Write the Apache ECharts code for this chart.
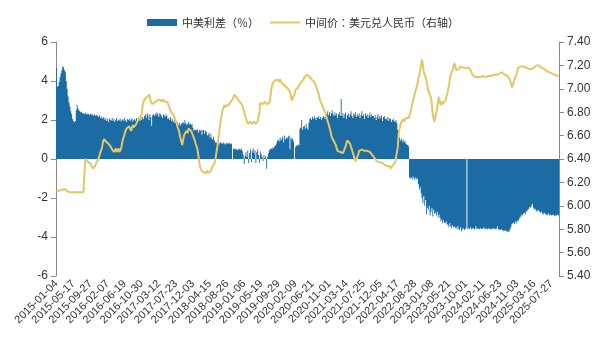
<!DOCTYPE html>
<html><head><meta charset="utf-8">
<script src="https://cdn.jsdelivr.net/npm/echarts@6/dist/echarts.min.js"></script>
<style>html,body{margin:0;padding:0;background:#fff}#c{width:606px;height:341px}</style>
</head><body><div id="c"></div>
<script>
// weekly observations starting from this Sunday
const startDate = '2015-01-04';
const spreadName = '中美利差（％）';
const rateName = '中间价：美元兑人民币（右轴）';
const leftAxisRange = [-6, 6, 2];
const rightAxisRange = [5.4, 7.4, 0.2];
const labelEvery = 19; // weeks between category labels

const spread = [
4.67,3.7,3.75,3.95,4.2,4.4,4.55,4.75,4.7,4.55,4.45,4.0,3.6,3.2,2.9,2.7,2.45,2.3,2.05,1.95,1.88,1.95,2.5,2.78,2.6,2.5,2.45,2.4,2.42,2.35,
2.35,2.3,2.38,2.32,2.28,2.35,2.3,2.25,2.32,2.28,2.3,2.22,2.3,2.25,2.2,2.28,
2.2,2.15,2.25,2.1,2.18,2.05,2.15,2.1,
2.0,2.1,1.95,2.05,1.9,2.08,2.0,1.98,2.12,1.95,2.05,1.9,2.0,2.1,1.95,2.02,1.98,2.08,1.92,2.0,2.05,1.95,2.1,1.98,1.9,2.05,2.0,2.08,1.95,2.02,2.1,1.92,2.0,2.05,1.96,2.1,2.0,
2.05,2.1,1.95,2.12,2.0,2.15,2.05,
2.2,2.3,2.1,2.35,2.25,2.0,2.3,2.15,1.7,2.25,2.3,
2.2,2.35,2.25,2.4,2.3,2.15,2.35,2.3,2.2,2.1,2.3,2.25,2.15,2.3,2.2,2.05,
2.1,2.0,2.15,1.95,2.05,1.9,2.0,1.85,1.95,1.8,1.9,1.75,1.85,1.7,1.8,
1.85,1.9,1.8,2.0,1.85,1.75,1.8,1.9,1.78,1.82,1.75,1.8,1.6,1.45,1.5,
1.5,1.48,1.52,1.35,1.5,1.45,1.5,1.25,1.48,1.5,1.3,1.45,1.4,1.2,
1.25,1.35,1.1,1.3,1.05,1.0,1.15,0.95,0.85,
0.85,0.8,0.9,0.75,0.82,0.88,0.8,0.78,0.85,0.8,0.75,0.82,0.8,0.78,0.85,0.8,0.76,0.8,
0,
0.52,0.5,0.55,0.48,0.5,0.45,0.52,0.5,0.48,0.53,0.4,
0.2,-0.25,0.15,0.35,0.1,0.45,-0.2,0.3,0.5,-0.15,0.4,0.55,0.3,0.45,-0.2,0.35,0.5,0.2,-0.2,0.4,0.25,0.1,-0.1,0.2,0.05,0.15,-0.5,0.1,0.3,
0.45,0.5,0.55,0.5,0.6,0.55,0.65,0.7,0.8,
0.95,1.0,0.9,1.1,0.95,1.05,1.15,0.85,1.2,1.0,1.1,
1.05,1.15,1.2,0.5,1.1,1.0,1.05,0.9,
0,
0.6,0.7,0.65,0.75,0.7,
1.55,1.6,2.0,1.5,1.65,1.7,1.55,1.8,1.6,1.5,1.85,
2.05,2.1,2.0,2.15,2.05,2.2,2.1,2.0,2.15,2.1,2.2,2.05,2.15,2.0,2.1,2.2,2.15,2.05,2.2,
2.3,2.45,2.25,2.4,2.2,2.35,2.5,2.3,2.2,2.4,2.25,2.35,2.1,2.3,2.4,2.2,
3.08,
2.2,2.35,2.1,2.3,2.4,2.05,2.25,2.35,2.15,2.3,2.45,2.2,2.1,2.35,2.25,2.4,2.15,2.3,2.2,2.35,2.1,2.25,2.45,2.2,2.3,2.05,2.35,2.2,2.3,2.1,2.25,2.4,2.15,2.3,2.2,
2.2,2.1,2.25,2.0,2.15,2.3,2.05,2.2,2.1,2.25,1.95,2.15,2.2,2.05,2.1,2.0,2.15,1.95,2.1,2.05,1.9,2.0,2.05,1.95,1.9,2.0,
1.85,1.5,1.2,
1.1,0.95,1.05,0.9,1.0,0.85,0.95,0.8,
0.75,0.72,0.65,-0.95,
-1.0,-0.95,-1.05,-0.9,-1.0,-1.06,-0.95,-1.05,-1.0,
-1.3,-1.57,-1.45,
-1.75,-2.0,-2.25,-1.9,
-2.4,-2.1,-2.85,-2.5,
-2.6,-2.4,-2.9,-2.7,-2.5,-2.95,-2.6,-2.8,-2.75,-2.9,-2.7,-3.0,-2.85,
-3.0,-3.2,-3.1,-3.3,-3.15,-3.25,-3.3,-3.2,
-3.35,-3.4,-3.5,-3.3,-3.45,-3.55,-3.4,-3.5,-3.45,-3.55,-3.5,-3.6,-3.45,
-3.6,-3.65,-3.5,-3.7,-3.6,-3.55,-3.65,-3.6,-3.55,
0,
-3.6,-3.55,-3.58,-3.5,-3.6,-3.57,-3.55,-3.6,-3.58,-3.45,-3.6,-3.56,-3.58,-3.6,-3.55,-3.58,-3.6,-3.57,-3.5,-3.6,-3.58,-3.56,-3.6,-3.55,-3.58,-3.6,-3.62,-3.58,-3.55,-3.6,-3.57,-3.6,-3.58,-3.45,-3.6,-3.62,-3.65,-3.6,-3.63,-3.65,-3.7,-3.68,-3.66,
-3.7,-3.72,-3.75,-3.7,-3.6,-3.5,-3.35,
-3.3,-3.25,-3.35,-3.2,-3.3,-3.15,-3.2,-3.1,-3.0,
-2.95,-2.85,-2.9,-2.8,-2.75,-2.85,-2.7,-2.65,-2.6,-2.55,
-2.45,-2.5,-2.4,-2.3,
-2.5,-2.6,-2.55,-2.65,-2.7,-2.6,-2.65,-2.7,-2.75,-2.7,
-2.8,-2.85,-2.75,-2.8,-2.85,-2.9,-2.85,-2.8,-2.9,-2.85,-2.9,-2.88,-2.85,-2.9,-2.92,-2.88,-2.9,-2.85,-2.9
];

const rate = [
6.12,6.12,6.125,6.13,6.125,6.13,6.135,6.14,6.15,6.145,6.14,6.13,6.125,6.12,6.115,6.115,6.115,6.11,6.115,6.115,6.11,6.115,6.115,6.115,6.115,6.115,6.115,6.115,6.115,6.116,6.115,6.116,
6.40,6.39,6.385,6.375,6.37,6.365,6.36,6.34,6.33,6.32,6.325,6.34,6.36,6.375,6.39,6.40,6.43,6.46,6.48,6.51,6.55,6.57,
6.56,6.55,6.545,6.54,6.53,6.52,6.51,6.50,6.48,6.47,6.46,6.47,6.49,6.46,6.47,6.49,6.46,6.47,6.49,
6.53,6.57,6.59,6.62,6.64,6.66,6.67,6.65,6.68,6.67,6.64,6.66,6.69,6.67,6.66,6.68,6.70,6.72,6.74,6.76,6.74,6.76,6.79,6.86,6.89,
6.91,6.92,6.90,6.93,6.94,6.95,6.93,6.89,6.87,6.88,6.86,6.88,6.87,6.89,6.90,6.89,6.90,6.91,6.90,6.89,6.90,6.91,6.89,6.90,6.88,6.89,6.88,
6.86,6.83,6.82,6.80,6.79,6.78,6.76,6.74,6.72,6.70,6.67,6.65,6.62,6.58,6.55,6.52,6.56,6.60,6.62,6.63,6.64,6.62,6.66,6.65,6.66,6.64,6.62,6.60,6.58,6.56,6.53,6.51,6.48,
6.43,6.37,6.33,6.31,6.30,6.29,6.30,6.29,6.28,6.29,6.30,6.28,6.29,6.29,6.30,6.32,6.34,6.35,6.36,
6.40,6.45,6.50,6.56,6.62,6.68,6.73,6.78,6.82,6.84,6.86,6.84,6.86,6.87,6.85,6.86,6.88,6.87,6.88,
6.91,6.93,6.95,6.94,6.93,6.94,6.92,6.90,6.89,6.88,6.88,6.86,6.83,6.80,6.77,6.75,6.72,6.71,6.70,6.71,6.72,6.71,6.70,6.71,6.72,6.71,6.70,6.71,6.72,6.73,
6.80,6.88,6.89,6.88,6.87,6.88,6.89,6.88,6.87,6.86,6.87,6.88,6.92,6.98,7.03,7.05,7.06,7.07,7.08,7.07,7.08,7.07,7.06,7.08,7.06,7.05,7.04,7.03,7.03,7.02,7.03,7.01,7.00,6.99,
6.97,6.94,6.90,6.89,6.90,6.95,6.99,7.00,6.99,7.01,7.03,7.04,7.05,7.04,7.06,7.08,7.10,7.09,7.11,7.12,7.12,7.11,7.10,7.11,
7.08,7.07,7.08,7.06,7.05,7.02,7.00,6.98,6.95,6.92,6.89,6.88,6.86,6.85,6.82,6.80,6.77,6.75,6.72,6.70,6.67,6.64,6.60,6.58,6.57,6.55,6.54,6.52,
6.49,6.47,6.46,6.47,6.46,6.45,6.46,6.45,6.47,6.49,6.51,6.54,6.56,6.57,6.55,6.53,6.50,6.48,6.45,6.43,6.40,6.38,6.37,6.39,
6.44,6.47,6.48,6.47,6.48,6.47,6.48,6.47,6.47,6.46,6.47,6.48,6.47,6.46,6.45,6.44,6.43,6.42,6.41,6.40,6.39,6.38,6.39,6.38,6.37,6.37,6.36,6.37,6.36,
6.35,6.36,6.35,6.34,6.35,6.33,6.34,6.32,6.31,6.33,6.35,6.36,6.37,6.37,6.38,6.50,6.62,6.66,6.70,6.72,6.73,6.74,6.72,6.73,6.75,6.76,6.74,6.75,6.77,
6.79,6.83,6.87,6.90,6.93,6.96,6.99,7.01,7.02,7.09,7.12,7.16,7.21,7.25,7.20,7.14,7.12,7.10,7.07,7.02,6.98,6.96,6.97,6.92,6.86,
6.78,6.74,6.72,6.76,6.80,6.84,6.90,6.93,6.88,6.86,6.89,6.87,6.86,6.88,6.90,6.93,6.95,6.96,7.03,7.08,7.12,7.14,7.16,7.17,7.22,7.20,
7.16,7.15,7.16,7.17,7.18,7.19,7.20,7.19,7.18,7.19,7.18,7.18,7.18,7.17,7.18,7.17,7.16,7.14,7.12,7.11,7.11,7.10,7.11,7.10,7.10,7.11,7.10,
7.10,7.10,7.10,7.11,7.10,7.10,7.10,7.10,7.10,7.11,7.11,7.11,7.11,7.11,7.12,7.12,7.12,7.12,7.12,7.12,
7.13,7.13,7.13,7.13,7.14,7.13,7.13,7.12,7.12,7.12,7.11,7.10,7.09,7.07,7.05,7.01,7.03,7.06,7.08,7.10,7.12,7.15,
7.18,7.19,7.19,7.19,7.19,7.20,7.19,7.19,7.19,7.18,7.18,7.18,7.17,7.18,7.18,7.17,7.18,7.18,7.18,7.18,
7.20,7.21,7.21,7.20,7.19,7.19,7.18,7.18,7.17,7.17,7.16,7.16,7.15,7.15,7.14,7.14,7.14,7.13,7.13,7.12,7.12,7.12,7.11,7.11,7.11,7.11
];

// weekly category labels
const dates = [];
(function(){
  const t0 = Date.parse(startDate + 'T00:00:00Z');
  const n = Math.max(spread.length, rate.length);
  for (let i = 0; i < n; i++) {
    dates.push(new Date(t0 + i * 7 * 86400000).toISOString().slice(0, 10));
  }
})();

const FONT = "'Liberation Sans', 'Noto Sans CJK SC', Arial, sans-serif";
const LEGEND_FONT = "'Noto Sans CJK TC', 'Noto Sans CJK SC', sans-serif";
const BAR_COLOR = '#1B6BA5';
const LINE_COLOR = '#E5C664';
const chart = echarts.init(document.getElementById('c'), null, {renderer: 'canvas'});
chart.setOption({
  animation: false,
  backgroundColor: '#fff',
  textStyle: {fontFamily: FONT},
  legend: {
    top: 12, left: 'center',
    itemWidth: 30, itemHeight: 7, itemGap: 10,
    textStyle: {fontSize: 11, color: '#333', fontFamily: LEGEND_FONT},
    data: [
      {name: spreadName, icon: 'rect'},
      {name: rateName, itemStyle: {opacity: 0}}
    ]
  },
  grid: {left: 56, right: 47, top: 42, bottom: 65, containLabel: false},
  xAxis: {
    type: 'category', data: dates, boundaryGap: true,
    axisLine: {show: false, onZero: false},
    axisTick: {show: false},
    splitLine: {show: false},
    axisLabel: {interval: labelEvery - 1, rotate: 45, fontSize: 11, color: '#333', margin: 6, fontFamily: FONT}
  },
  yAxis: [
    {
      type: 'value', position: 'left',
      min: leftAxisRange[0], max: leftAxisRange[1], interval: leftAxisRange[2],
      axisLine: {show: true, lineStyle: {color: '#888'}},
      axisTick: {show: true, length: 5, lineStyle: {color: '#888'}},
      splitLine: {show: false},
      axisLabel: {fontSize: 12, color: '#333', margin: 8, fontFamily: FONT}
    },
    {
      type: 'value', position: 'right',
      min: rightAxisRange[0], max: rightAxisRange[1], interval: rightAxisRange[2],
      axisLine: {show: true, lineStyle: {color: '#888'}},
      axisTick: {show: true, length: 5, lineStyle: {color: '#888'}},
      splitLine: {show: false},
      axisLabel: {fontSize: 12, color: '#333', margin: 8, fontFamily: FONT,
        formatter: v => v.toFixed(2)}
    }
  ],
  series: [
    {
      name: spreadName, type: 'bar', data: spread, yAxisIndex: 0,
      large: true, largeThreshold: 100,
      barCategoryGap: '0%',
      itemStyle: {color: BAR_COLOR},
      z: 2
    },
    {
      name: rateName, type: 'line', data: rate, yAxisIndex: 1,
      symbol: 'none', showSymbol: false,
      lineStyle: {color: LINE_COLOR, width: 2}, itemStyle: {color: LINE_COLOR}, z: 3
    }
  ]
});
</script>
</body></html>
